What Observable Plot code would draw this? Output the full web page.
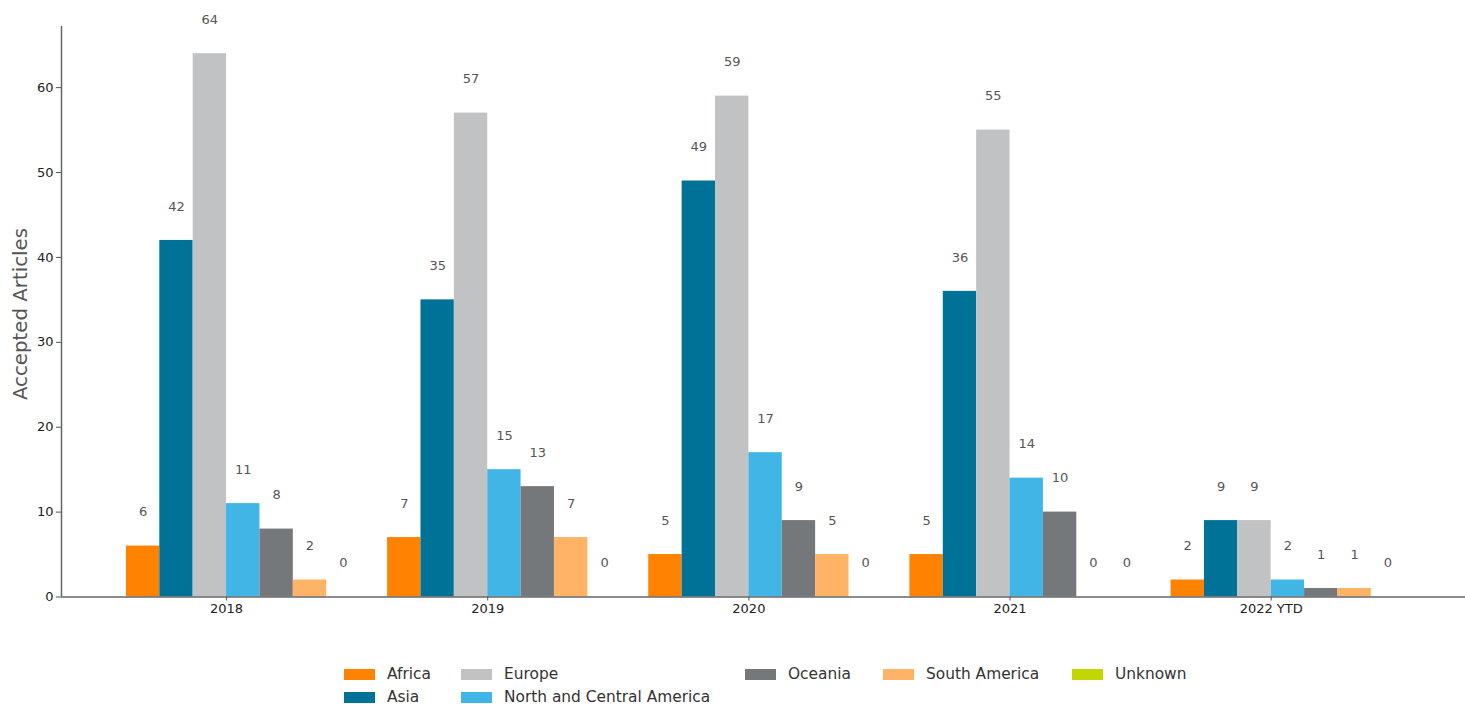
<!DOCTYPE html>
<html>
<head>
<meta charset="utf-8">
<script src="https://cdn.jsdelivr.net/npm/d3@7"></script>
<script src="https://cdn.jsdelivr.net/npm/@observablehq/plot@0.6"></script>
<style>
  html, body { margin: 0; padding: 0; background: #fff; }
  body { font-family: "DejaVu Sans", sans-serif; width: 1465px; height: 704px; overflow: hidden; }
  #wrap { position: relative; width: 1465px; height: 704px; }
  #ylabel { position: absolute; left: 20px; top: 314px; transform: translate(-50%, -50%) rotate(-90deg); font-family: "DejaVu Sans", sans-serif; font-size: 19.8px; color: #555; white-space: nowrap; }
  .lg { position: absolute; display: flex; align-items: center; font-family: "DejaVu Sans", sans-serif; font-size: 15.4px; color: #333; white-space: nowrap; }
  .sw { width: 31px; height: 11px; margin-right: 12px; }
</style>
</head>
<body>
<div id="wrap">
  <div id="chart"></div>
  <div id="ylabel">Accepted Articles</div>
  <div id="legend"></div>
</div>
<script>
const years = ["2018", "2019", "2020", "2021", "2022 YTD"];
const regions = ["Africa", "Asia", "Europe", "North and Central America", "Oceania", "South America", "Unknown"];
const colors = ["#FF8200", "#007298", "#C1C2C4", "#41B6E6", "#75787B", "#FFB367", "#C4D600"];
const africa = [6, 7, 5, 5, 2];
const asia = [42, 35, 49, 36, 9];
const europe = [64, 57, 59, 55, 9];
const northCentralAmerica = [11, 15, 17, 14, 2];
const oceania = [8, 13, 9, 10, 1];
const southAmerica = [2, 7, 5, 0, 1];
const unknown = [0, 0, 0, 0, 0];
const yTicks = [0, 10, 20, 30, 40, 50, 60];

const series = [africa, asia, europe, northCentralAmerica, oceania, southAmerica, unknown];
const bw = 0.1278;
const rows = years.flatMap((year, g) => regions.map((region, r) => ({year, g, region, r, value: series[r][g]})));
const xDomain = [-0.632, 4.744];

const plot = Plot.plot({
  width: 1465,
  height: 640,
  marginLeft: 61,
  marginRight: 0,
  marginTop: 26,
  marginBottom: 43.5,
  style: {fontFamily: "DejaVu Sans, sans-serif", fontSize: "13px", color: "#222", background: "white"},
  x: {type: "linear", domain: xDomain, axis: null},
  y: {type: "linear", domain: [0, 67.2], axis: null},
  color: {domain: regions, range: colors},
  marks: [
    Plot.rectY(rows, {
      x1: d => d.g + (d.r - 3) * bw,
      x2: d => d.g + (d.r - 2) * bw,
      y1: () => 0,
      y2: "value",
      fill: "region",
      inset: 0
    }),
    Plot.text(rows, {
      x: d => d.g + (d.r - 2.5) * bw,
      y: "value",
      text: d => String(d.value),
      dy: -34,
      fill: "#555",
      fontSize: 13
    }),
    Plot.ruleY([0], {stroke: "#666", strokeWidth: 1.5}),
    Plot.ruleX([xDomain[0]], {stroke: "#666", strokeWidth: 1.5}),
    Plot.axisX(d3.range(years.length), {
      tickFormat: i => years[i],
      tickSize: 4,
      tickPadding: 3,
      stroke: "#555",
      fill: "#222",
      fontSize: 13,
      label: null
    }),
    Plot.axisY(yTicks, {
      tickSize: 5,
      tickPadding: 3,
      stroke: "#555",
      fill: "#222",
      fontSize: 13,
      label: null
    })
  ]
});
document.getElementById("chart").appendChild(plot);

// legend (matplotlib-style, 5 columns, filled column-wise)
const legendPos = [
  {x: 344, y: 674}, {x: 344, y: 697},
  {x: 461, y: 674}, {x: 461, y: 697},
  {x: 745, y: 674},
  {x: 883, y: 674},
  {x: 1072, y: 674}
];
const legend = document.getElementById("legend");
regions.forEach((name, i) => {
  const item = document.createElement("div");
  item.className = "lg";
  item.style.left = legendPos[i].x + "px";
  item.style.top = (legendPos[i].y - 10) + "px";
  item.style.height = "20px";
  const sw = document.createElement("div");
  sw.className = "sw";
  sw.style.background = colors[i];
  const t = document.createElement("span");
  t.textContent = name;
  item.appendChild(sw);
  item.appendChild(t);
  legend.appendChild(item);
});
</script>
</body>
</html>
